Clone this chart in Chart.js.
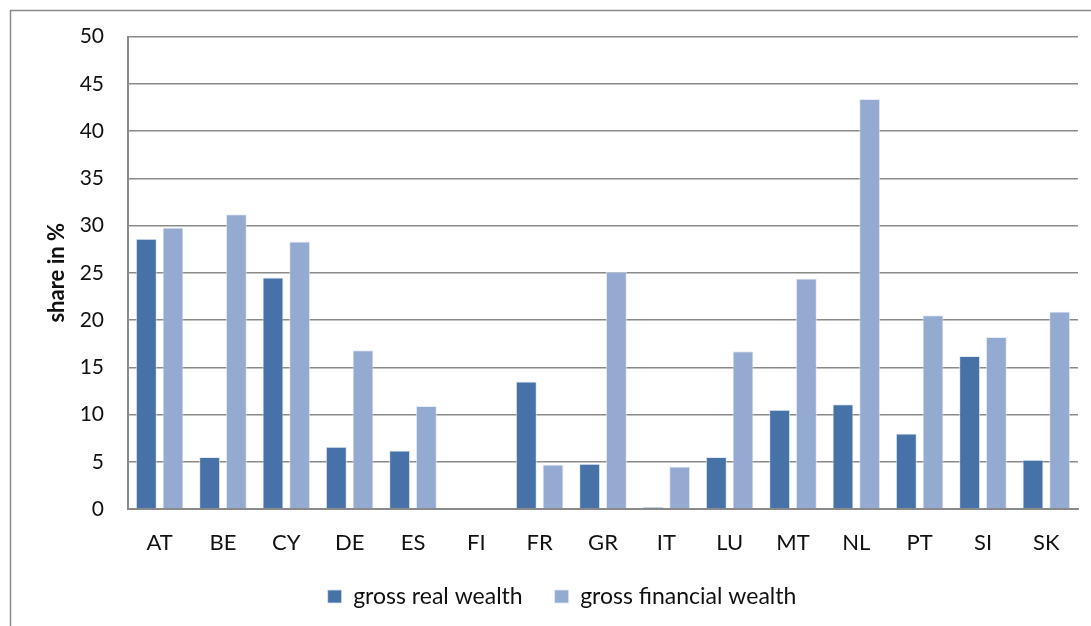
<!DOCTYPE html>
<html>
<head>
<meta charset="utf-8">
<script src="https://cdn.jsdelivr.net/npm/chart.js@4/dist/chart.umd.min.js"></script>
<style>
  html, body { margin: 0; padding: 0; background: #fff; }
  canvas { display: block; }
</style>
</head>
<body>
<canvas id="wealthChart" width="1091" height="626"></canvas>
<script>
const countries = ['AT', 'BE', 'CY', 'DE', 'ES', 'FI', 'FR', 'GR', 'IT', 'LU', 'MT', 'NL', 'PT', 'SI', 'SK'];
const grossReal = [28.6, 5.5, 24.5, 6.6, 6.2, 0, 13.5, 4.8, 0.2, 5.5, 10.5, 11.1, 8.0, 16.2, 5.2];
const grossFinancial = [29.8, 31.2, 28.3, 16.8, 10.9, 0, 4.7, 25.1, 4.5, 16.7, 24.4, 43.4, 20.5, 18.2, 20.9];
const yTicks = [0, 5, 10, 15, 20, 25, 30, 35, 40, 45, 50];

const gridGray = '#8a8a8a';
const font = 'Lato, "Open Sans", sans-serif';

// frame around the chart (left and top edges show)
const framePlugin = {
  id: 'frame',
  beforeDraw(chart) {
    const ctx = chart.ctx;
    ctx.save();
    ctx.strokeStyle = '#8a8a8a';
    ctx.lineWidth = 1.5;
    ctx.beginPath();
    ctx.moveTo(10.5, chart.height);
    ctx.lineTo(10.5, 10.5);
    ctx.lineTo(chart.width, 10.5);
    ctx.stroke();
    ctx.restore();
  }
};

// move the legend a little right of the canvas centre
const legendShift = {
  id: 'legendShift',
  afterUpdate(chart) {
    const lg = chart.legend;
    lg.left += 23;
    lg.right += 23;
    lg.adjustHitBoxes();
  }
};

new Chart(document.getElementById('wealthChart'), {
  type: 'bar',
  data: {
    labels: countries,
    datasets: [{
      label: 'gross real wealth',
      data: grossReal,
      backgroundColor: '#4672a8',
      borderColor: 'rgba(220,230,242,0.8)',
      borderWidth: 1
    }, {
      label: 'gross financial wealth',
      data: grossFinancial,
      backgroundColor: '#95aad1',
      borderColor: 'rgba(225,232,244,0.8)',
      borderWidth: 1
    }]
  },
  options: {
    responsive: false,
    animation: false,
    layout: { padding: { left: 0, right: 13, top: 34, bottom: 8 } },
    datasets: {
      bar: { categoryPercentage: 0.843, barPercentage: 0.786 }
    },
    scales: {
      x: {
        grid: { display: false, drawTicks: false },
        border: { display: true, color: gridGray, width: 2 },
        ticks: { color: '#111', font: { family: font, size: 22 }, padding: 21, maxRotation: 0 },
        afterFit(scale) { scale.height = 44; }
      },
      y: {
        min: 0,
        max: 50,
        afterBuildTicks(scale) { scale.ticks = yTicks.map(v => ({ value: v })); },
        afterFit(scale) { scale.width = 128; },
        grid: { color: gridGray, lineWidth: 1.5, drawTicks: false },
        border: { display: true, color: gridGray, width: 2 },
        ticks: { color: '#111', font: { family: font, size: 21 }, padding: 24 },
        title: {
          display: true,
          text: 'share in %',
          color: '#111',
          font: { family: font, size: 22, weight: 'bold' },
          padding: { top: 44, bottom: 0 }
        }
      }
    },
    plugins: {
      legend: {
        position: 'bottom',
        maxHeight: 73,
        labels: {
          color: '#111',
          font: { family: font, size: 23 },
          boxWidth: 14,
          boxHeight: 13,
          padding: 32
        }
      },
      tooltip: { enabled: false }
    }
  },
  plugins: [framePlugin, legendShift]
});
</script>
</body>
</html>
